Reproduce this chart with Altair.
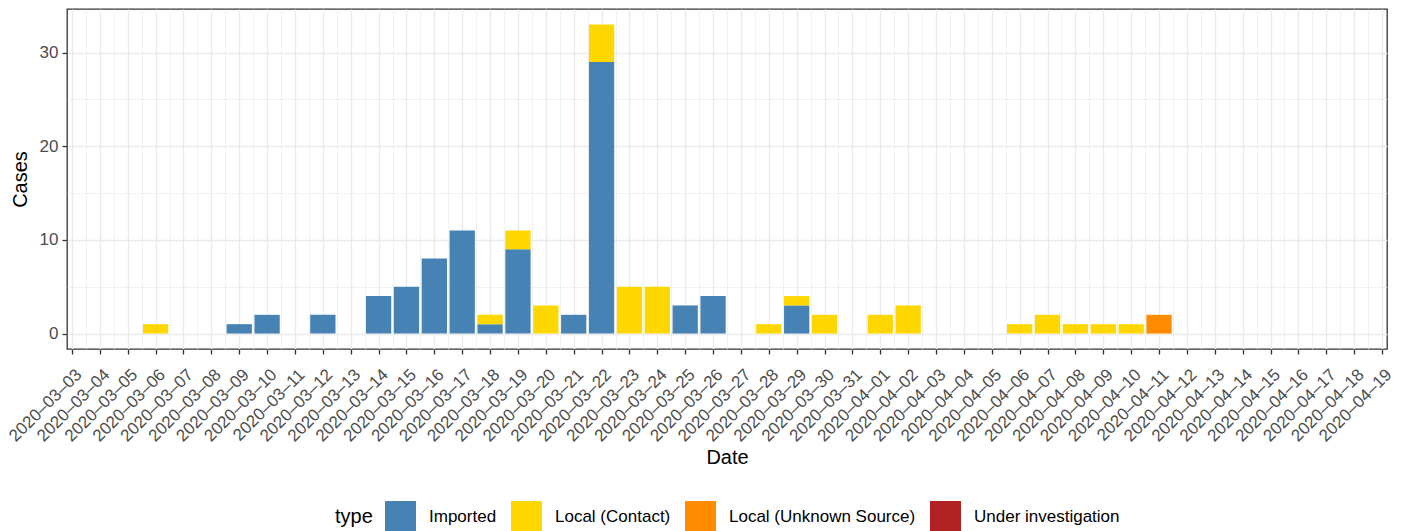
import altair as alt
import pandas as pd

# ---- data ----
dates = ["2020-03-06", "2020-03-09", "2020-03-10", "2020-03-12", "2020-03-14",
         "2020-03-15", "2020-03-16", "2020-03-17", "2020-03-18", "2020-03-19",
         "2020-03-20", "2020-03-21", "2020-03-22", "2020-03-23", "2020-03-24",
         "2020-03-25", "2020-03-26", "2020-03-28", "2020-03-29", "2020-03-30",
         "2020-04-01", "2020-04-02", "2020-04-06", "2020-04-07", "2020-04-08",
         "2020-04-09", "2020-04-10", "2020-04-11"]
imported = [0, 1, 2, 2, 4, 5, 8, 11, 1, 9, 0, 2, 29, 0, 0, 3, 4, 0, 3, 0,
            0, 0, 0, 0, 0, 0, 0, 0]
local_contact = [1, 0, 0, 0, 0, 0, 0, 0, 1, 2, 3, 0, 4, 5, 5, 0, 0, 1, 1, 2,
                 2, 3, 1, 2, 1, 1, 1, 0]
local_unknown = [0, 0, 0, 0, 0, 0, 0, 0, 0, 0, 0, 0, 0, 0, 0, 0, 0, 0, 0, 0,
                 0, 0, 0, 0, 0, 0, 0, 2]
under_investigation = [0, 0, 0, 0, 0, 0, 0, 0, 0, 0, 0, 0, 0, 0, 0, 0, 0, 0,
                       0, 0, 0, 0, 0, 0, 0, 0, 0, 0]

types = ["Imported", "Local (Contact)", "Local (Unknown Source)", "Under investigation"]
colors = ["#4682B4", "#FFD700", "#FF8C00", "#B22222"]

x_start, x_end = "2020-03-03", "2020-04-19"
y_ticks = [0, 5, 10, 15, 20, 25, 30]

rows = []
for i, d in enumerate(dates):
    for k, series in enumerate([imported, local_contact, local_unknown, under_investigation]):
        if series[i] > 0:
            rows.append({"date": d, "type": types[k], "cases": series[i], "ord": k})
df = pd.DataFrame(rows)

# tick positions: every day (major) plus half days (minor grid)
tick_ms = [int(t.value // 10**6) for t in pd.date_range(x_start, x_end, freq="12h", tz="UTC")]
dom_ms = [tick_ms[0], tick_ms[-1]]

FONT = "Liberation Sans"
PLOT_W, PLOT_H = 1320, 340
ndays = (pd.Timestamp(x_end) - pd.Timestamp(x_start)).days
bar_w = 0.9 * PLOT_W / ndays

x_axis = alt.Axis(
    values=tick_ms,
    labelExpr="utchours(datum.value) == 0 ? datum.label : ''",
    format="%Y\u2013%m\u2013%d", formatType="time",
    labelAngle=-45, labelAlign="right", labelBaseline="top",
    labelOverlap=False, labelPadding=12, labelOffset=1,
    gridWidth={"condition": {"test": "utchours(datum.value) == 0", "value": 1.4}, "value": 0.7},
    tickOpacity={"condition": {"test": "utchours(datum.value) == 0", "value": 1}, "value": 0},
    title="Date", titlePadding=3,
)
y_axis = alt.Axis(
    values=y_ticks,
    labelExpr="datum.value % 10 == 0 ? datum.label : ''",
    gridWidth={"condition": {"test": "datum.value % 10 == 0", "value": 1.4}, "value": 0.7},
    tickOpacity={"condition": {"test": "datum.value % 10 == 0", "value": 1}, "value": 0},
    labelPadding=4, title="Cases", titlePadding=9,
)

chart = alt.Chart(df).mark_bar(size=bar_w, opacity=1).encode(
    x=alt.X("date:T", scale=alt.Scale(type="utc", domain=dom_ms, nice=False), axis=x_axis),
    y=alt.Y("cases:Q", stack="zero",
            scale=alt.Scale(domain=[-1.65, 34.65], nice=False, zero=False), axis=y_axis),
    color=alt.Color("type:N", scale=alt.Scale(domain=types, range=colors),
                    legend=alt.Legend(
                        orient="none", legendX=268, legendY=492,
                        direction="horizontal", titleOrient="left",
                        symbolType="square", symbolSize=961, symbolStrokeWidth=0,
                        symbolOpacity=1,
                        labelFontSize=17, titleFontSize=20, labelFont=FONT, titleFont=FONT,
                        titleFontWeight="normal", labelColor="black", titleColor="black",
                        labelOffset=13, columnPadding=14, titlePadding=12,
                        titleBaseline="middle", labelLimit=400,
                    )),
    order=alt.Order("ord:Q", sort="ascending"),
).properties(
    width=PLOT_W, height=PLOT_H,
    autosize=alt.AutoSizeParams(type="none"),
    padding={"left": 59, "top": 1, "right": 13, "bottom": 182},
).configure_view(
    stroke="#333333", strokeWidth=1.3,
).configure_axis(
    labelFont=FONT, titleFont=FONT, domain=False,
    tickColor="#333333", tickWidth=1.3, tickSize=5,
    gridColor="#EBEBEB", labelColor="#4D4D4D", labelFontSize=17,
    titleFontSize=20, titleFontWeight="normal", titleColor="black",
)

chart.save("out.html", embed_options={"renderer": "svg", "actions": False})
